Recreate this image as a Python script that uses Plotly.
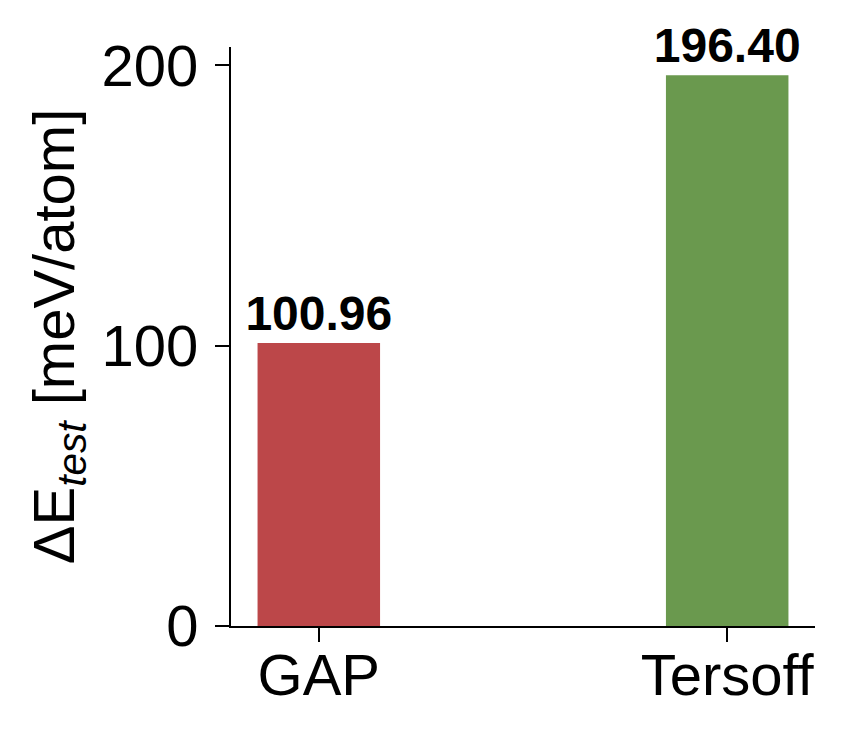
import plotly.graph_objects as go

categories = ["GAP", "Tersoff"]
values = [100.96, 196.40]
bar_labels = ["100.96", "196.40"]
colors = ["#bc4749", "#6a994e"]
y_ticks = [0, 100, 200]

FONT = "Liberation Sans, Arial, Helvetica, sans-serif"

fig = go.Figure()
fig.add_trace(go.Bar(
    x=[0, 1],
    y=values,
    width=0.3,
    marker=dict(color=colors, line=dict(width=0)),
    text=["<b>%s</b>" % t for t in bar_labels],
    textposition="outside",
    constraintext="none",
    textfont=dict(family=FONT, size=48, color="black"),
    cliponaxis=False,
))

# the page body adds an 8px offset, so margins compensate for it
fig.update_layout(
    width=845, height=739,
    margin=dict(l=223, r=38, t=39, b=121),
    plot_bgcolor="white", paper_bgcolor="white",
    showlegend=False,
    font=dict(family=FONT, color="black"),
)
fig.update_xaxes(
    range=[-0.215, 1.215],
    tickvals=[0, 1], ticktext=categories,
    showline=True, linecolor="black", linewidth=2,
    ticks="outside", ticklen=14, tickwidth=2, tickcolor="black",
    tickfont=dict(size=58, family=FONT),
    ticklabelstandoff=-17,
    showgrid=False, zeroline=False,
)
fig.update_yaxes(
    range=[0, 206.5],
    tickvals=y_ticks,
    showline=True, linecolor="black", linewidth=2,
    ticks="outside", ticklen=14, tickwidth=2, tickcolor="black",
    tickfont=dict(size=58, family=FONT),
    ticklabelstandoff=5,
    showgrid=False, zeroline=False,
    title=dict(text="ΔE<sub><i>test</i></sub> [meV/atom]", font=dict(size=58, family=FONT), standoff=8),
)

fig.write_html("out.html")
